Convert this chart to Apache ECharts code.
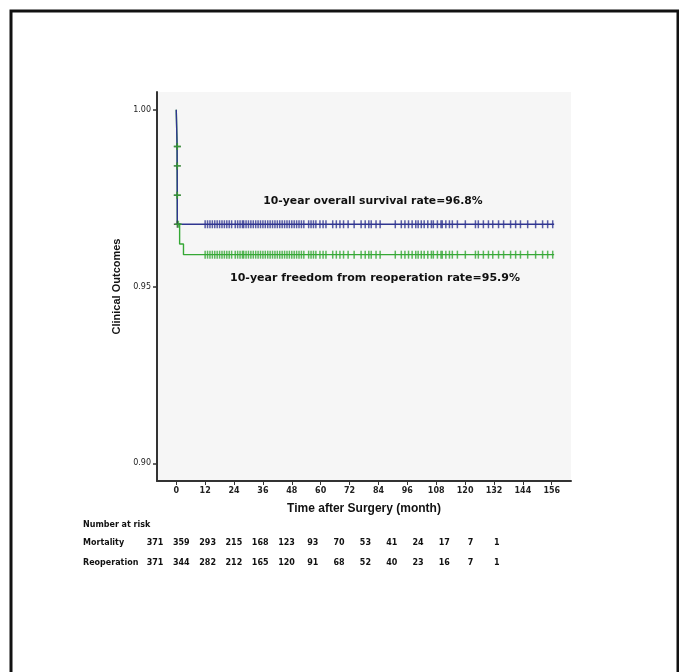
<!DOCTYPE html>
<html><head><meta charset="utf-8">
<script src="https://cdn.jsdelivr.net/npm/echarts@6/dist/echarts.min.js"></script>
<style>html,body{margin:0;padding:0;background:#fff}#c{width:679px;height:672px}</style>
</head><body><div id="c"></div>
<script>
// ---- data ----
var xTicks = [0,12,24,36,48,60,72,84,96,108,120,132,144,156];
var yTicks = [0.90,0.95,1.00];
// Kaplan-Meier step points [month, survival]
var survivalSteps = [[0,1.0],[0.35,0.9896],[0.38,0.9841],[0.42,0.9758],[0.45,0.9676],[157,0.9676]];
var reopSteps = [[0,1.0],[0.35,0.9896],[0.38,0.9841],[0.42,0.9758],[0.45,0.9676],[1.4,0.962],[3,0.959],[157,0.959]];
// early censor marks
var survivalEarlyCensor = [[0.45,0.9896],[0.45,0.9841],[0.45,0.9758],[0.45,0.9676]];
var reopEarlyCensor = [[0.45,0.9896],[0.45,0.9841],[0.45,0.9758],[0.9,0.9676]];
// censor times on the plateau (months)
var censorTimes = [12,13,14,15,16,17,18,19,20,21,22,23,24.5,25.5,26.5,27.5,28,29,30,31,32,33,34,35,36,37,38,39,40,41,42,43,44,45,46,47,48,49,50,51,52,53,55,56,57,58,59.7,61,62.2,65,66.5,68,69.5,71.4,73.9,76.8,78.5,80,81,83,84.7,91,93.5,95,96.5,98,99.5,100.5,101.8,103,104.5,106,106.8,108.5,110,110.5,112,113.5,114.7,116.8,120.1,124.3,125.5,127.6,129.7,131.5,133.9,136,138.9,141,143,146,149.3,152.2,154.3,156.4];
var survivalPlateau = 0.9676;
var reopPlateau = 0.959;
// number at risk
var riskLabels = ["Mortality","Reoperation"];
var riskMortality = [371,359,293,215,168,123,93,70,53,41,24,17,7,1];
var riskReoperation = [371,344,282,212,165,120,91,68,52,40,23,16,7,1];

var blue = '#2f3590', green = '#35a835';
var plus = 'path://M2,0H3V2H5V3H3V5H2V3H0V2H2Z';
var chart = echarts.init(document.getElementById('c'), null, {renderer:'canvas'});

var g = [];
g.push({type:'rect', shape:{x:11,y:11,width:667,height:700}, style:{fill:'none', stroke:'#111', lineWidth:3}, z:100});
var font = 'bold 8px "DejaVu Sans"';
g.push({type:'text', x:83, y:521, style:{text:'Number at risk', font:font, fill:'#111'}});
var rows = [riskMortality, riskReoperation];
for (var r=0;r<2;r++){
  var yy = 539 + r*20;
  g.push({type:'text', x:83, y:yy, style:{text:riskLabels[r], font:font, fill:'#111'}});
  for (var i=0;i<rows[r].length;i++){
    g.push({type:'text', x:155 + i*26.3, y:yy, style:{text:String(rows[r][i]), font:font, fill:'#111', textAlign:'center'}});
  }
}
g.push({type:'text', x:373, y:196, style:{text:'10-year overall survival rate=96.8%', font:'bold 10.8px "DejaVu Sans"', fill:'#111', textAlign:'center'}});
g.push({type:'text', x:375, y:273, style:{text:'10-year freedom from reoperation rate=95.9%', font:'bold 11px "DejaVu Sans"', fill:'#111', textAlign:'center'}});

function cens(y){ return censorTimes.map(function(t){return [t,y];}); }

chart.setOption({
  animation:false,
  graphic:g,
  grid:{left:157, top:92, right:108, bottom:191, show:true, backgroundColor:'#f6f6f6', borderWidth:0},
  xAxis:{type:'value', min:-8, max:164,
    name:'Time after Surgery (month)', nameLocation:'middle', nameGap:22,
    nameTextStyle:{fontFamily:'Liberation Sans', fontWeight:'bold', fontSize:12, color:'#111'},
    axisLine:{show:true, onZero:false, lineStyle:{color:'#333', width:2}},
    axisTick:{show:true, length:4, customValues:xTicks, lineStyle:{color:'#333'}},
    axisLabel:{customValues:xTicks, fontSize:8, fontWeight:'bold', color:'#222', margin:6, fontFamily:'DejaVu Sans'},
    splitLine:{show:false}},
  yAxis:{type:'value', min:0.895, max:1.005,
    name:'Clinical Outcomes', nameLocation:'middle', nameGap:32,
    nameTextStyle:{fontFamily:'Liberation Sans', fontWeight:'bold', fontSize:11, color:'#111'},
    axisLine:{show:true, onZero:false, lineStyle:{color:'#333', width:2}},
    axisTick:{show:true, length:4, customValues:yTicks, lineStyle:{color:'#333', width:1.5}},
    axisLabel:{customValues:yTicks, fontSize:8, color:'#222', margin:6, fontFamily:'DejaVu Sans',
      formatter:function(v){return v.toFixed(2);}},
    splitLine:{show:false}},
  series:[
    {type:'line', step:'end', data:survivalSteps, symbol:'none', lineStyle:{color:blue, width:1.4}, z:3},
    {type:'line', step:'end', data:reopSteps, symbol:'none', lineStyle:{color:green, width:1.4}, z:2},
    {type:'scatter', data:cens(survivalPlateau), symbol:'rect', symbolSize:[1.5,8], itemStyle:{color:blue}, z:4},
    {type:'scatter', data:cens(reopPlateau), symbol:'rect', symbolSize:[1.5,8], itemStyle:{color:green}, z:4},
    {type:'scatter', data:survivalEarlyCensor, symbol:plus, symbolSize:7, itemStyle:{color:'#2a3a2a'}, z:5},
    {type:'scatter', data:reopEarlyCensor, symbol:plus, symbolSize:7, itemStyle:{color:green}, z:6}
  ]
});
</script></body></html>
